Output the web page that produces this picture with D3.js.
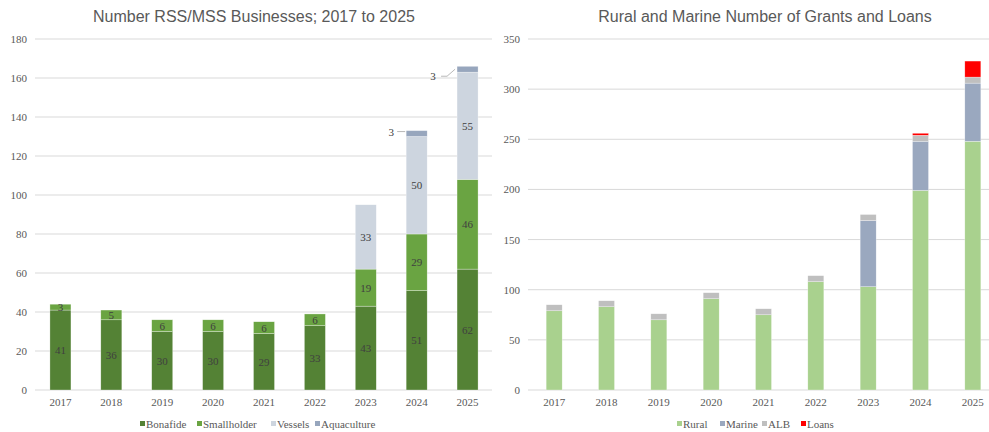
<!DOCTYPE html>
<html>
<head>
<meta charset="utf-8">
<script src="https://cdn.jsdelivr.net/npm/d3@7"></script>
<style>
  body { margin: 0; background: #fff; }
  svg { display: block; }
  .tick text { font-family: "Liberation Serif", serif; font-size: 11px; fill: #595959; }
  .title { font-family: "Liberation Sans", Arial, sans-serif; font-size: 16px; fill: #595959; }
  .lbl { font-family: "Liberation Serif", serif; font-size: 11px; fill: #404040; }
  .leg { font-family: "Liberation Serif", serif; font-size: 11px; fill: #595959; }
</style>
</head>
<body>
<svg width="989" height="432"></svg>
<script>
// shared categories
const years = ["2017", "2018", "2019", "2020", "2021", "2022", "2023", "2024", "2025"];

// left chart: RSS/MSS businesses
const bonafide    = [41, 36, 30, 30, 29, 33, 43, 51, 62];
const smallholder = [3, 5, 6, 6, 6, 6, 19, 29, 46];
const vessels     = [0, 0, 0, 0, 0, 0, 33, 50, 55];
const aquaculture = [0, 0, 0, 0, 0, 0, 0, 3, 3];
const leftTicks = [0, 20, 40, 60, 80, 100, 120, 140, 160, 180];

// right chart: grants and loans
const rural  = [79, 83, 70, 91, 75, 108, 103, 199, 248];
const marine = [0, 0, 0, 0, 0, 0, 66, 49, 58];
const alb    = [6, 6, 6, 6, 6, 6, 6, 6, 6];
const loans  = [0, 0, 0, 0, 0, 0, 0, 2, 16];
const rightTicks = [0, 50, 100, 150, 200, 250, 300, 350];

let svg = d3.select("svg");

function stackRows(series) {
    return years.map((y, i) => {
        let row = {year: y};
        series.forEach(s => row[s.key] = s.values[i]);
        return row;
    });
}

function drawChart(opt) {
    let x = d3.scaleBand().domain(years)
        .range([opt.x0, opt.x1])
        .paddingInner(opt.pad).paddingOuter(opt.pad / 2);
    let y = d3.scaleLinear().domain([0, opt.max]).range([390, opt.yTop]);

    let g = svg.append("g");

    // gridlines
    g.selectAll("line.grid")
        .data(opt.ticks)
        .enter().append("line")
        .attr("x1", opt.x0).attr("x2", opt.gridEnd)
        .attr("y1", d => y(d)).attr("y2", d => y(d))
        .attr("stroke", "#d9d9d9").attr("stroke-width", 1);

    // y axis
    let yAx = g.append("g")
        .attr("transform", `translate(${opt.yLabelX},0)`)
        .call(d3.axisLeft(y).tickValues(opt.ticks).tickSize(0).tickPadding(0));
    yAx.select(".domain").remove();

    // x axis
    let xAx = g.append("g")
        .attr("transform", "translate(0,396)")
        .call(d3.axisBottom(x).tickSize(0).tickPadding(2));
    xAx.select(".domain").remove();

    // stacked bars
    let keys = opt.series.map(s => s.key);
    let stacked = d3.stack().keys(keys)(stackRows(opt.series));
    let color = d3.scaleOrdinal().domain(keys).range(opt.series.map(s => s.color));

    let layers = g.selectAll("g.layer")
        .data(stacked)
        .enter().append("g")
        .attr("class", "layer")
        .attr("fill", d => color(d.key));
    layers.selectAll("rect")
        .data(d => d.filter(v => v[1] > v[0]))
        .enter().append("rect")
        .attr("x", d => x(d.data.year))
        .attr("width", x.bandwidth())
        .attr("y", d => y(d[1]))
        .attr("height", d => y(d[0]) - y(d[1]))
        .attr("stroke", "#fff").attr("stroke-width", 0.5).attr("stroke-opacity", 0.6);

    // legend
    let leg = g.append("g").attr("transform", "translate(0,424)");
    opt.series.forEach((s, i) => {
        let lx = opt.legendX[i];
        leg.append("rect").attr("x", lx).attr("y", -3).attr("width", 5).attr("height", 5).attr("fill", s.color);
        leg.append("text").attr("class", "leg").attr("x", lx + 6).attr("y", 4).text(s.key);
    });

    // title
    svg.append("text").attr("class", "title")
        .attr("x", opt.titleX).attr("y", 22)
        .attr("text-anchor", "middle")
        .text(opt.title);

    return {x, y, stacked};
}

let left = drawChart({
    x0: 35, x1: 493, gridEnd: 492, pad: 0.587, max: 180, yTop: 39,
    yLabelX: 27, ticks: leftTicks,
    series: [
        {key: "Bonafide", values: bonafide, color: "#548235"},
        {key: "Smallholder", values: smallholder, color: "#6aa442"},
        {key: "Vessels", values: vessels, color: "#cdd5df"},
        {key: "Aquaculture", values: aquaculture, color: "#97a6bd"}
    ],
    legendX: [140, 197, 271, 315],
    title: "Number RSS/MSS Businesses; 2017 to 2025", titleX: 254
});

let right = drawChart({
    x0: 528, x1: 999, gridEnd: 989, pad: 0.694, max: 350, yTop: 39,
    yLabelX: 520, ticks: rightTicks,
    series: [
        {key: "Rural", values: rural, color: "#a9d18e"},
        {key: "Marine", values: marine, color: "#9aa8bf"},
        {key: "ALB", values: alb, color: "#bfbfbf"},
        {key: "Loans", values: loans, color: "#ff0000"}
    ],
    legendX: [677, 720, 762, 801],
    title: "Rural and Marine Number of Grants and Loans", titleX: 765
});

// data labels, left chart (inside segments, aquaculture via leader lines)
let lx = left.x, ly = left.y;
let labelLayer = svg.append("g");
left.stacked.slice(0, 3).forEach(layer => {
    labelLayer.selectAll(null)
        .data(layer.filter(v => v[1] > v[0]))
        .enter().append("text")
        .attr("class", "lbl")
        .attr("text-anchor", "middle")
        .attr("x", d => lx(d.data.year) + lx.bandwidth() / 2)
        .attr("y", d => ly((d[0] + d[1]) / 2) + 4)
        .text(d => d[1] - d[0]);
});

let aq = left.stacked[3].filter(v => v[1] > v[0]);
// callout offsets from bar's left edge (label position, in px)
const calloutDx = [-15, -24];
const calloutDy = [-2, 7];
aq.forEach((d, i) => {
    let bx = lx(d.data.year);
    let cy = ly((d[0] + d[1]) / 2);
    let tx = bx + calloutDx[i], ty = cy + calloutDy[i];
    labelLayer.append("text").attr("class", "lbl")
        .attr("text-anchor", "middle")
        .attr("x", tx).attr("y", ty + 4)
        .text(d[1] - d[0]);
    let pts = i === 0
        ? [[tx + 6, ty], [bx - 1, ty]]
        : [[tx + 8, ty], [tx + 14, ty], [bx - 2, cy]];
    labelLayer.append("polyline")
        .attr("points", pts.map(p => p.join(",")).join(" "))
        .attr("fill", "none").attr("stroke", "#a6a6a6").attr("stroke-width", 0.8);
});
</script>
</body>
</html>
